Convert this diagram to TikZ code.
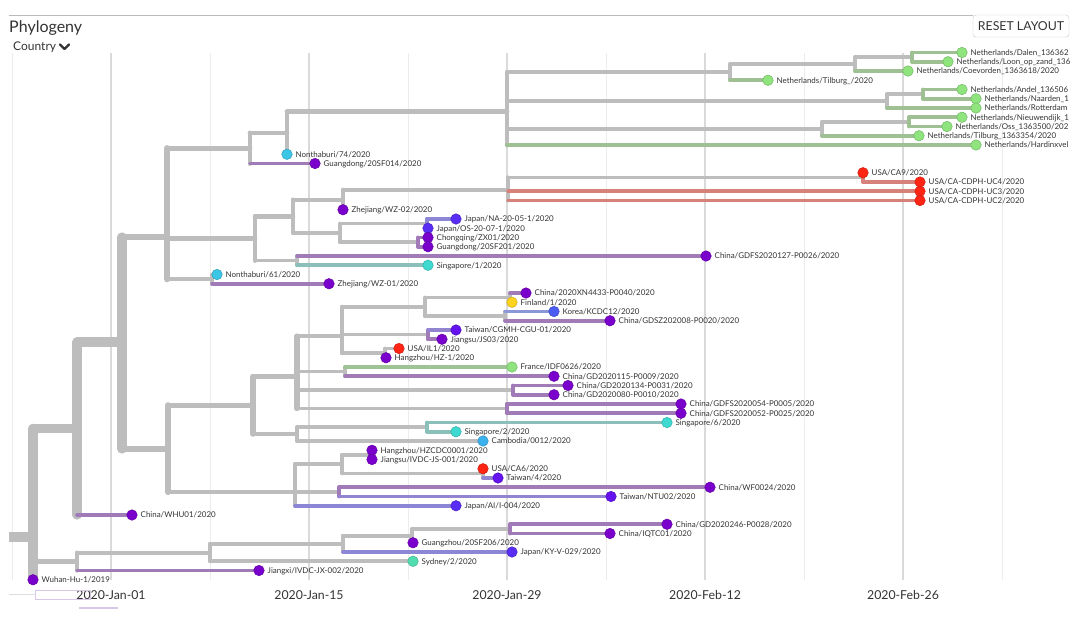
\documentclass[tikz,border=0pt]{standalone}
\usepackage{fontspec}
\setmainfont{Lato}
\pgfdeclarelayer{bg}
\pgfdeclarelayer{grid}
\pgfsetlayers{grid,bg,main}
\definecolor{gr}{HTML}{BDBDBD}
\definecolor{gridmaj}{HTML}{DADADA}
\definecolor{gridmin}{HTML}{ECECEC}
\definecolor{txt}{HTML}{333333}
\definecolor{nlB}{HTML}{9EC092}
\definecolor{nlD}{HTML}{8FE47E}
\definecolor{usB}{HTML}{D6817A}
\definecolor{usD}{HTML}{FF2414}
\definecolor{cnB}{HTML}{A07BB8}
\definecolor{cnD}{HTML}{7A00CC}
\definecolor{jpB}{HTML}{8D86D4}
\definecolor{jpD}{HTML}{5A2DF4}
\definecolor{twB}{HTML}{9284D0}
\definecolor{twD}{HTML}{6412EE}
\definecolor{krB}{HTML}{8B98D8}
\definecolor{krD}{HTML}{4B5CF2}
\definecolor{sgB}{HTML}{8BC0BA}
\definecolor{sgD}{HTML}{3ED9D0}
\definecolor{thD}{HTML}{3CC6E6}
\definecolor{khD}{HTML}{3BB2EE}
\definecolor{fiD}{HTML}{FFD31E}
\definecolor{frB}{HTML}{9EC495}
\definecolor{frD}{HTML}{8EE37E}
\definecolor{auD}{HTML}{52DDB0}
\definecolor{artA}{HTML}{D8C8E8}
\definecolor{artB}{HTML}{DDDDDD}
\newcommand{\labfont}{\fontsize{7.95}{9}\selectfont}
\newcommand{\hb}[4]{\draw[bw=#3,#4] (#1 |- #2) -- (#2.center);}
\newcommand{\vb}[5]{\draw[bw=#4,#5] (#1 |- #2) -- (#1 |- #3);}
\newcommand{\leaf}[5]{\node[tipdot=#4] (#1) at (#2,{52.5+9.25*#3}) {};
  \node[lab] (#1t) at ([xshift=8.5pt,yshift=-2.9pt]#1.center) {#5};}
\begin{document}
\begin{tikzpicture}[x=1pt,y=-1pt,
  bw/.style={line width={3.5pt+6.5pt*(#1)/58}, line cap=round},
  tipdot/.style={circle, inner sep=0pt, minimum size=10.5pt, fill=#1, draw=#1!80!black, line width=0.5pt},
  lab/.style={font=\labfont, text=txt, anchor=base west, inner sep=0pt},
  datel/.style={font=\fontsize{12.3}{14}\selectfont, text=txt, anchor=base, inner sep=0pt},
  btn/.style={draw=black!22, rounded corners=3pt, minimum width=96pt, minimum height=22pt, inner sep=0pt, font=\fontsize{12.3}{14}\selectfont, text=txt}]
\useasboundingbox (0,0) rectangle (1088,622);
\clip (0,0) rectangle (1088,622);
% header
\draw[black!27, line width=1pt] (9,15) -- (973,15);
\node[btn] (reset) at (1021,26) {RESET LAYOUT};
\node[anchor=base west, inner sep=0pt, text=txt, font=\fontsize{16}{18}\selectfont] (title) at (9,32) {Phylogeny};
\node[anchor=base west, inner sep=0pt, text=txt, font=\fontsize{12}{14}\selectfont] (country) at (13,50) {Country};
\draw[txt, line width=2.2pt, line cap=round, line join=round] (60,44.5) -- (64.5,49) -- (69,44.5);
% grid
\begin{pgfonlayer}{grid}
\foreach \gx in {12,210,408,606,804,1002} \draw[gridmin, line width=1pt] (\gx,53) -- (\gx,580);
\foreach \gx in {111,309,507,705,903} \draw[gridmaj, line width=1.6pt] (\gx,53) -- (\gx,580);
\end{pgfonlayer}
\node[datel] (d1) at (111,599) {2020-Jan-01};
\node[datel] (d2) at (309,599) {2020-Jan-15};
\node[datel] (d3) at (507,599) {2020-Jan-29};
\node[datel] (d4) at (705,599) {2020-Feb-12};
\node[datel] (d5) at (903,599) {2020-Feb-26};
% bottom artifacts
\draw[artB, line width=1pt] (9,594) -- (35,594);
\draw[artA, line width=1pt] (35,590) rectangle (90,599);
\draw[artA, line width=1.3pt] (79,608) -- (118,608);
% internal nodes
\coordinate (S) at (9,537);
\coordinate (R) at (33,537);
\coordinate (A) at (77,428.5);
\coordinate (B) at (77,561.5);
\coordinate (C) at (122,342);
\coordinate (D) at (167,237);
\coordinate (E) at (168,449);
\coordinate (F) at (250,148.25);
\coordinate (G) at (255,238.5);
\coordinate (H) at (212,279.1);
\coordinate (I) at (287,133);
\coordinate (J) at (507,111.8);
\coordinate (K) at (730,72.2);
\coordinate (N) at (855,64.1);
\coordinate (O) at (912,57.1);
\coordinate (L) at (887,101.1);
\coordinate (P) at (923,94.1);
\coordinate (M) at (822,128.8);
\coordinate (Q) at (909,121.9);
\coordinate (X) at (293,216.3);
\coordinate (V) at (343,199.7);
\coordinate (U) at (508,189.7);
\coordinate (U1) at (863,177.4);
\coordinate (W) at (340,232.9);
\coordinate (Jp) at (427,223.6);
\coordinate (Cq) at (418,242.1);
\coordinate (Y) at (297,260.6);
\coordinate (Ef) at (253,405.3);
\coordinate (Ea) at (297,376.6);
\coordinate (E1) at (342,336);
\coordinate (E2) at (425,306.9);
\coordinate (E2a) at (510,297.6);
\coordinate (E2b) at (505,316.1);
\coordinate (E3) at (428,334.6);
\coordinate (E4) at (385,353.1);
\coordinate (E5) at (345,371.6);
\coordinate (E6) at (513,390.1);
\coordinate (E7) at (507,408.6);
\coordinate (Eh) at (297,434.1);
\coordinate (Si) at (427,427.1);
\coordinate (Eg) at (295,492);
\coordinate (Ei) at (342,464.1);
\coordinate (Hz) at (370,454.9);
\coordinate (Ca) at (483,473.4);
\coordinate (Ej) at (339,491.9);
\coordinate (Sy) at (210,552.6);
\coordinate (Ky) at (343,543.9);
\coordinate (Gz) at (412,535.8);
\coordinate (Gd) at (510,528.9);
% leaves
\leaf{l0}{962}{0}{nlD}{Netherlands/Dalen\_136362}
\leaf{l1}{948}{1}{nlD}{Netherlands/Loon\_op\_zand\_136}
\leaf{l2}{908}{2}{nlD}{Netherlands/Coevorden\_1363618/2020}
\leaf{l3}{768}{3}{nlD}{Netherlands/Tilburg\_/2020}
\leaf{l4}{962}{4}{nlD}{Netherlands/Andel\_136506}
\leaf{l5}{976}{5}{nlD}{Netherlands/Naarden\_1}
\leaf{l6}{976}{6}{nlD}{Netherlands/Rotterdam}
\leaf{l7}{962}{7}{nlD}{Netherlands/Nieuwendijk\_1}
\leaf{l8}{947}{8}{nlD}{Netherlands/Oss\_1363500/202}
\leaf{l9}{919}{9}{nlD}{Netherlands/Tilburg\_1363354/2020}
\leaf{l10}{976}{10}{nlD}{Netherlands/Hardinxvel}
\leaf{l11}{287}{11}{thD}{Nonthaburi/74/2020}
\leaf{l12}{315}{12}{cnD}{Guangdong/20SF014/2020}
\leaf{l13}{863}{13}{usD}{USA/CA9/2020}
\leaf{l14}{920}{14}{usD}{USA/CA-CDPH-UC4/2020}
\leaf{l15}{920}{15}{usD}{USA/CA-CDPH-UC3/2020}
\leaf{l16}{920}{16}{usD}{USA/CA-CDPH-UC2/2020}
\leaf{l17}{343}{17}{cnD}{Zhejiang/WZ-02/2020}
\leaf{l18}{456}{18}{jpD}{Japan/NA-20-05-1/2020}
\leaf{l19}{428}{19}{jpD}{Japan/OS-20-07-1/2020}
\leaf{l20}{428}{20}{cnD}{Chongqing/ZX01/2020}
\leaf{l21}{428}{21}{cnD}{Guangdong/20SF201/2020}
\leaf{l22}{706}{22}{cnD}{China/GDFS2020127-P0026/2020}
\leaf{l23}{428}{23}{sgD}{Singapore/1/2020}
\leaf{l24}{217}{24}{thD}{Nonthaburi/61/2020}
\leaf{l25}{329}{25}{cnD}{Zhejiang/WZ-01/2020}
\leaf{l26}{526}{26}{cnD}{China/2020XN4433-P0040/2020}
\leaf{l27}{512}{27}{fiD}{Finland/1/2020}
\leaf{l28}{554}{28}{krD}{Korea/KCDC12/2020}
\leaf{l29}{610}{29}{cnD}{China/GDSZ202008-P0020/2020}
\leaf{l30}{456}{30}{twD}{Taiwan/CGMH-CGU-01/2020}
\leaf{l31}{442}{31}{cnD}{Jiangsu/JS03/2020}
\leaf{l32}{399}{32}{usD}{USA/IL1/2020}
\leaf{l33}{386}{33}{cnD}{Hangzhou/HZ-1/2020}
\leaf{l34}{512}{34}{frD}{France/IDF0626/2020}
\leaf{l35}{554}{35}{cnD}{China/GD2020115-P0009/2020}
\leaf{l36}{568}{36}{cnD}{China/GD2020134-P0031/2020}
\leaf{l37}{554}{37}{cnD}{China/GD2020080-P0010/2020}
\leaf{l38}{681}{38}{cnD}{China/GDFS2020054-P0005/2020}
\leaf{l39}{681}{39}{cnD}{China/GDFS2020052-P0025/2020}
\leaf{l40}{667}{40}{sgD}{Singapore/6/2020}
\leaf{l41}{456}{41}{sgD}{Singapore/2/2020}
\leaf{l42}{483}{42}{khD}{Cambodia/0012/2020}
\leaf{l43}{372}{43}{cnD}{Hangzhou/HZCDC0001/2020}
\leaf{l44}{372}{44}{cnD}{Jiangsu/IVDC-JS-001/2020}
\leaf{l45}{483}{45}{usD}{USA/CA6/2020}
\leaf{l46}{498}{46}{twD}{Taiwan/4/2020}
\leaf{l47}{710}{47}{cnD}{China/WF0024/2020}
\leaf{l48}{611}{48}{twD}{Taiwan/NTU02/2020}
\leaf{l49}{456}{49}{jpD}{Japan/AI/I-004/2020}
\leaf{l50}{132}{50}{cnD}{China/WHU01/2020}
\leaf{l51}{667}{51}{cnD}{China/GD2020246-P0028/2020}
\leaf{l52}{610}{52}{cnD}{China/IQTC01/2020}
\leaf{l53}{413}{53}{cnD}{Guangzhou/20SF206/2020}
\leaf{l54}{512}{54}{jpD}{Japan/KY-V-029/2020}
\leaf{l55}{413}{55}{auD}{Sydney/2/2020}
\leaf{l56}{259}{56}{cnD}{Jiangxi/IVDC-JX-002/2020}
\leaf{l57}{33}{57}{cnD}{Wuhan-Hu-1/2019}
% branches
\begin{pgfonlayer}{bg}
\draw[bw=50,gr,line cap=butt] (S) -- (R);
\vb{R}{A}{l57}{54}{gr} \hb{R}{A}{51}{gr} \hb{R}{B}{6}{gr}
\vb{A}{C}{l50}{51}{gr} \hb{A}{C}{50}{gr} \hb{A}{l50}{1}{cnB}
\vb{C}{D}{E}{50}{gr} \hb{C}{D}{26}{gr} \hb{C}{E}{24}{gr}
\vb{D}{F}{H}{26}{gr} \hb{D}{F}{13}{gr} \hb{D}{G}{11}{gr} \hb{D}{H}{2}{gr}
\vb{F}{I}{l12}{13}{gr} \hb{F}{I}{12}{gr} \hb{F}{l12}{1}{cnB}
\vb{I}{J}{l11}{12}{gr} \hb{I}{J}{11}{gr}
\vb{J}{K}{l10}{11}{gr} \hb{J}{K}{4}{gr} \hb{J}{L}{3}{gr} \hb{J}{M}{3}{gr} \hb{J}{l10}{1}{nlB}
\vb{K}{N}{l3}{4}{gr} \hb{K}{N}{3}{gr} \hb{K}{l3}{1}{nlB}
\vb{N}{O}{l2}{3}{gr} \hb{N}{O}{2}{gr} \hb{N}{l2}{1}{nlB}
\vb{O}{l0}{l1}{2}{nlB} \hb{O}{l0}{1}{nlB} \hb{O}{l1}{1}{nlB}
\vb{L}{P}{l6}{3}{gr} \hb{L}{P}{2}{gr} \hb{L}{l6}{1}{nlB}
\vb{P}{l4}{l5}{2}{nlB} \hb{P}{l4}{1}{nlB} \hb{P}{l5}{1}{nlB}
\vb{M}{Q}{l9}{3}{gr} \hb{M}{Q}{2}{gr} \hb{M}{l9}{1}{nlB}
\vb{Q}{l7}{l8}{2}{nlB} \hb{Q}{l7}{1}{nlB} \hb{Q}{l8}{1}{nlB}
\vb{G}{X}{Y}{11}{gr} \hb{G}{X}{9}{gr} \hb{G}{Y}{2}{gr}
\vb{X}{V}{W}{9}{gr} \hb{X}{V}{5}{gr} \hb{X}{W}{4}{gr}
\vb{V}{U}{l17}{5}{gr} \hb{V}{U}{4}{gr}
\vb{U}{U1}{l16}{4}{gr} \hb{U}{U1}{2}{gr} \hb{U}{l15}{1}{usB} \hb{U}{l16}{1}{usB}
\vb{U1}{l13}{l14}{2}{usB} \hb{U1}{l14}{1}{usB}
\vb{W}{Jp}{Cq}{4}{gr} \hb{W}{Jp}{2}{gr} \hb{W}{Cq}{2}{gr}
\vb{Jp}{l18}{l19}{2}{jpB} \hb{Jp}{l18}{1}{jpB}
\vb{Cq}{l20}{l21}{2}{cnB} \hb{Cq}{l20}{1}{cnB} \hb{Cq}{l21}{1}{cnB}
\vb{Y}{l22}{l23}{2}{gr} \hb{Y}{l22}{1}{cnB} \hb{Y}{l23}{1}{sgB}
\vb{H}{l24}{l25}{2}{gr} \hb{H}{l24}{1}{gr} \hb{H}{l25}{1}{cnB}
\vb{E}{Ef}{Eg}{24}{gr} \hb{E}{Ef}{17}{gr} \hb{E}{Eg}{7}{gr}
\vb{Ef}{Ea}{Eh}{17}{gr} \hb{Ef}{Ea}{14}{gr} \hb{Ef}{Eh}{3}{gr}
\vb{Ea}{E1}{E7}{14}{gr} \hb{Ea}{E1}{8}{gr} \hb{Ea}{E5}{2}{gr} \hb{Ea}{E6}{2}{gr} \hb{Ea}{E7}{2}{gr}
\vb{E1}{E2}{E4}{8}{gr} \hb{E1}{E2}{4}{gr} \hb{E1}{E3}{2}{gr} \hb{E1}{E4}{2}{gr}
\vb{E2}{E2a}{E2b}{4}{gr} \hb{E2}{E2a}{2}{gr} \hb{E2}{E2b}{2}{gr}
\vb{E2a}{l26}{l27}{2}{gr} \hb{E2a}{l26}{1}{cnB} \hb{E2a}{l27}{1}{gr}
\vb{E2b}{l28}{l29}{2}{gr} \hb{E2b}{l28}{1}{krB} \hb{E2b}{l29}{1}{cnB}
\vb{E3}{l30}{l31}{2}{cnB} \hb{E3}{l30}{1}{twB} \hb{E3}{l31}{1}{cnB}
\vb{E4}{l32}{l33}{2}{gr} \hb{E4}{l32}{1}{gr}
\vb{E5}{l34}{l35}{2}{gr} \hb{E5}{l34}{1}{frB} \hb{E5}{l35}{1}{cnB}
\vb{E6}{l36}{l37}{2}{cnB} \hb{E6}{l36}{1}{cnB} \hb{E6}{l37}{1}{cnB}
\vb{E7}{l38}{l39}{2}{cnB} \hb{E7}{l38}{1}{cnB} \hb{E7}{l39}{1}{cnB}
\vb{Eh}{Si}{l42}{3}{gr} \hb{Eh}{Si}{2}{gr} \hb{Eh}{l42}{1}{gr}
\vb{Si}{l40}{l41}{2}{sgB} \hb{Si}{l40}{1}{sgB} \hb{Si}{l41}{1}{sgB}
\vb{Eg}{Ei}{l49}{7}{gr} \hb{Eg}{Ei}{4}{gr} \hb{Eg}{Ej}{2}{gr} \hb{Eg}{l49}{1}{jpB}
\vb{Ei}{Hz}{Ca}{4}{gr} \hb{Ei}{Hz}{2}{gr} \hb{Ei}{Ca}{2}{gr}
\vb{Hz}{l43}{l44}{2}{cnB} \hb{Hz}{l43}{1}{cnB} \hb{Hz}{l44}{1}{cnB}
\vb{Ca}{l45}{l46}{2}{gr} \hb{Ca}{l46}{1}{twB}
\vb{Ej}{l47}{l48}{2}{cnB} \hb{Ej}{l47}{1}{cnB} \hb{Ej}{l48}{1}{twB}
\vb{B}{Sy}{l56}{6}{gr} \hb{B}{Sy}{5}{gr} \hb{B}{l56}{1}{cnB}
\vb{Sy}{Ky}{l55}{5}{gr} \hb{Sy}{Ky}{4}{gr} \hb{Sy}{l55}{1}{gr}
\vb{Ky}{Gz}{l54}{4}{gr} \hb{Ky}{Gz}{3}{gr} \hb{Ky}{l54}{1}{jpB}
\vb{Gz}{Gd}{l53}{3}{gr} \hb{Gz}{Gd}{2}{gr}
\vb{Gd}{l51}{l52}{2}{cnB} \hb{Gd}{l51}{1}{cnB} \hb{Gd}{l52}{1}{cnB}
\end{pgfonlayer}
\end{tikzpicture}
\end{document}
